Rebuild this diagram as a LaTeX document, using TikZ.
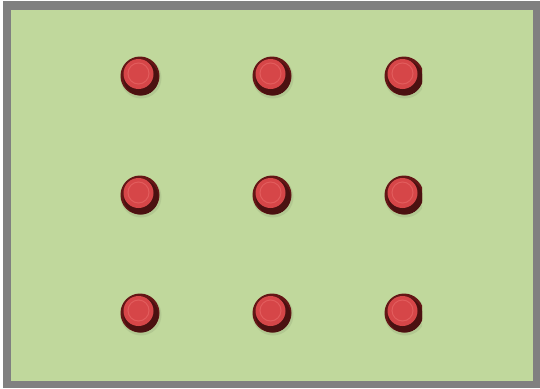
\documentclass[tikz,border=0pt]{standalone}
\definecolor{bggreen}{RGB}{192,216,156}
\definecolor{framegray}{RGB}{128,128,128}
\definecolor{dotrim}{RGB}{100,22,22}
\definecolor{dotred}{RGB}{214,70,72}
\definecolor{dotlight}{RGB}{226,92,92}
\tikzset{
  dotrimstyle/.style={fill=dotrim},
  dotfacestyle/.style={fill=dotred},
  dothl/.style={draw=dotlight, line width=1pt}
}
\newcommand{\reddot}[2]{%
  \fill[bggreen!80!black, opacity=0.35] (#1+1,#2+2) circle (20.5);
  \fill[dotrimstyle] (#1,#2) circle (19.5);
  \fill[dotrim!75!black] (#1+1,#2+2) circle (17.5);
  \fill[dotfacestyle] (#1-1.5,#2-2) circle (15);
  \draw[dothl] (#1-1.5,#2-2.5) circle (10.5);
}
\begin{document}
\begin{tikzpicture}[x=1pt,y=-1pt]
\useasboundingbox (0,0) rectangle (540,388);
\fill[white] (0,0) rectangle (540,388);
\fill[framegray] (3,1) rectangle (540,388);
\fill[bggreen] (11,10) rectangle (533,381);
\begin{scope}
\clip (0,0) rectangle (422,388);
\foreach \y in {76,195,313}{
  \foreach \x in {140,272,404}{
    \reddot{\x}{\y}
  }
}
\end{scope}
\end{tikzpicture}
\end{document}
